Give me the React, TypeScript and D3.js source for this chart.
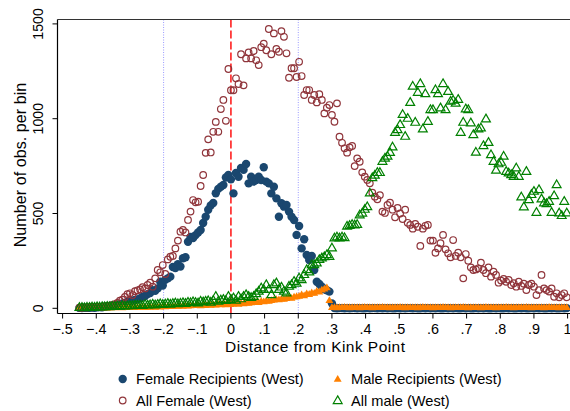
import * as d3 from "d3";

// bins of the running variable (distance from kink), 0.0075 wide starting at -0.45
const binStart = -0.45;
const binWidth = 0.0075;

const femaleRecipients = [
  2, 1, 3, 2, 3, 4, 3, 5, 6, 5, 8, 10,
  12, 15, 14, 18, 22, 25,
  28, 35, 33, 40, 44, 47, 52, 61, 65, 75, 80, 96,
  92, 105, 140, 120, 150, 158, 167, 218, 212, 233,
  220, 264, 269, 351, 376, 370, 386, 400,
  413, 450, 483, 520, 543, 555, 607, 630, 641, 650, 690, 703,
  680, 606, 714, 694, 740, 730, 761, 659, 694, 668,
  677, 694, 677, 744, 668, 659, 606, 641, 580, 483,
  554, 536, 545, 510, 483, 466, 387, 434, 316, 364,
  281, 255, 276, 202, 140, 128, 114, 100, 95, 88,
  26,
  1, 0, 1, 1, 0, 1, 0, 1, 1, 0, 1, 0, 0, 1, 0, 1, 1, 0, 1, 0,
  1, 0, 1, 0, 0, 1, 0, 1, 0, 1, 1, 0, 1, 0, 0, 1, 0, 1, 0, 1,
  0, 1, 0, 0, 1, 0, 1, 0, 1, 0, 0, 1, 0, 1, 0, 0, 1, 0, 1, 0,
  1, 0, 0, 1, 0, 1, 0, 0, 1, 0, 1, 0, 0, 1, 0, 1, 0, 0, 1, 0,
  1, 0, 1, 0, 0, 1, 0, 1, 0, 0, 1, 0, 1,
];

const maleRecipients = [
  0, 1, 0, 1, 2, 1, 0, 2, 1, 2, 3, 1, 2, 3, 2, 3, 4, 2, 3, 4, 5, 3, 4, 5, 4, 6, 5, 4, 6, 7, 5,
  8, 6, 9, 7, 10, 8, 9, 11, 10, 12, 9, 13, 11, 12, 14, 13, 15, 12, 16, 14, 17, 15, 18, 16, 19, 17, 20, 18, 21,
  19, 22, 24, 20, 25, 23, 27, 26, 28, 30, 32, 29, 35, 33, 38, 36, 40, 42, 45, 44, 48, 46, 50, 55, 52, 58, 60,
  62, 70, 65, 75, 72, 80, 78, 88, 85, 95, 100, 107, 40,
  3, 3, 2, 3, 3, 4, 3, 2, 3, 3, 3, 2, 3, 4, 3, 3, 2, 3, 3, 3,
  4, 3, 3, 2, 3, 3, 3, 4, 3, 2, 3, 3, 3, 3, 2, 3, 4, 3, 3, 3,
  2, 3, 3, 3, 4, 3, 3, 2, 3, 3, 3, 3, 4, 3, 2, 3, 3, 3, 3, 2,
  3, 4, 3, 3, 3, 2, 3, 3, 3, 4, 3, 3, 2, 3, 3, 3, 3, 4, 3, 2,
  3, 3, 3, 3, 2, 3, 4, 3, 3, 3, 2, 3, 3, 3,
];

const allFemale = [
  4, 3, 5, 4, 6, 5, 7, 8, 6, 9, 10, 12, 14,
  17, 22, 28, 40, 45, 60, 75,
  79, 70, 90, 95, 100, 111, 105, 123, 135, 114,
  158, 202, 190, 228, 181, 258, 272, 276, 316, 357,
  404, 413, 400, 466, 510, 571, 559, 562,
  645, 703, 820, 891, 822, 931, 983, 931, 1051, 1099, 989, 1262,
  1150, 1150, 1213, 1183, 1340, 1176, 1318, 1350, 1318, 1357,
  1308, 1283, 1377, 1396, 1361, 1473, 1340, 1450, 1368, 1353,
  1462, 1432, 1345, 1216, 1266, 1266, 1220, 1300, 1225,
  1125, 1151, 1151, 1099, 1125, 1086, 1129, 1099, 1028, 1058, 1072, 1020, 984, 1081, 905,
  873, 844, 821, 849, 856, 750, 791, 773, 717, 694,
  677, 659, 610, 589, 575, 597, 510, 503, 545, 557, 520, 480, 529, 500, 471, 520, 451, 440, 420, 445,
  430, 329, 420, 435, 440,
  357, 357, 293, 316, 343, 387, 311, 290, 269, 360, 276, 293, 269, 158, 286, 251, 216, 202, 205, 211,
  241, 202, 185, 216, 167, 193, 176, 135, 146, 155, 140, 150, 123, 132, 114, 140, 118, 130, 96, 123,
  130, 114, 70, 96, 176, 105, 96, 88, 105, 61, 79, 58, 70, 79, 58,
];

const allMale = [
  2, 3, 1, 4, 3, 5, 4, 6, 5, 7, 6, 8, 7, 9, 8, 10, 9, 12, 10, 11,
  13, 12, 15, 14, 16, 13, 18, 15, 17, 20, 16, 19, 22, 18, 21, 24, 20, 23, 26, 22,
  25, 28, 24, 30, 27, 33, 29, 26, 35, 32, 35, 38, 30, 40, 61, 36, 42, 45, 39, 61,
  45, 53, 40, 61, 48, 61, 70, 61, 55, 61,
  75, 88, 105, 97, 123, 97, 70, 123, 132, 97,
  110, 88, 79, 114, 123, 140, 130, 158, 149, 176,
  202, 190, 228, 228, 237, 255, 264, 270, 281, 272,
  316, 369, 374, 369, 374, 370, 431, 435, 440, 438,
  440, 490, 500, 520, 534, 606, 687, 700, 714, 714,
  773, 790, 800, 820, 849, 926, 940, 967, 1020, 905,
  1000, 1084, 1169, 979, 1137, 1183, 944, 1130, 984, 1046,
  1046, 1151, 1130, 1055, 1183, 1046, 1142, 1090, 1095, 1080,
  1100, 926, 979, 1050, 1046, 976, 914, 821, 944, 949,
  856, 997, 873, 808, 773, 726, 760, 768, 800, 720,
  712, 703, 694, 738, 694, 585, 533, 720, 571, 598,
  615, 504, 624, 575, 554, 550, 562, 504, 592, 650,
  501, 487, 562, 501,
];

const xTicks = [-0.5, -0.4, -0.3, -0.2, -0.1, 0, 0.1, 0.2, 0.3, 0.4, 0.5, 0.6, 0.7, 0.8, 0.9, 1];
const yTicks = [0, 500, 1000, 1500];
const dottedLines = [-0.2, 0.2];
const kinkLine = 0;

const legendItems = [
  {label: "Female Recipients (West)", kind: "dot"},
  {label: "Male Recipients (West)", kind: "tri"},
  {label: "All Female (West)", kind: "ring"},
  {label: "All male (West)", kind: "hollowTri"},
];

const NAVY = "#1a476f";
const MAROON = "#90353b";
const ORANGE = "#ff8000";
const GREEN = "#008000";
const FONT = "'Liberation Sans', Arial, Helvetica, sans-serif";

const fmtTick = (v: number) => {
  if (v === 0) return "0";
  if (v === 1) return "1";
  const s = d3.format(".1f")(v);
  return s.replace("0.", ".");
};

const bigTri = d3.symbol().type(d3.symbolTriangle).size(34)()!;
const smallTri = d3.symbol().type(d3.symbolTriangle).size(27)()!;

export default function App() {
  const width = 570;
  const height = 411;
  const left = 57.5;
  const top = 19.5;
  const bottom = 313.5;
  const right = 570;

  const x = d3.scaleLinear().domain([-0.5, 1]).range([62.6, 567.6]);
  const y = d3.scaleLinear().domain([0, 1500]).range([308.3, 23.9]);
  const bin = (i: number) => binStart + i * binWidth;

  const marker = (kind: string, cx: number, cy: number, key?: any) => {
    if (kind === "dot") return <circle key={key} cx={cx} cy={cy} r={4.2} fill={NAVY} />;
    if (kind === "ring")
      return <circle key={key} cx={cx} cy={cy} r={3.3} fill="none" stroke={MAROON} strokeWidth={1.2} />;
    if (kind === "tri")
      return <path key={key} d={smallTri} transform={`translate(${cx},${cy})`} fill={ORANGE} />;
    return (
      <path key={key} d={bigTri} transform={`translate(${cx},${cy})`} fill="none" stroke={GREEN} strokeWidth={1.2} />
    );
  };

  return (
    <svg width={width} height={height} style={{position: "absolute", left: 0, top: 0, background: "#fff"}}
         fontFamily={FONT}>
      <rect width={width} height={height} fill="#fff" />

      {/* reference lines under the markers */}
      {dottedLines.map((d) => (
        <line key={d} x1={x(d)} x2={x(d)} y1={top} y2={bottom} stroke="#9a9aff" strokeWidth={1}
              strokeDasharray="1,1.5" />
      ))}
      <line x1={x(kinkLine)} x2={x(kinkLine)} y1={top} y2={bottom} stroke="#ff0000" strokeWidth={1.4}
            strokeDasharray="8,3" />

      {/* series, in Stata's drawing order */}
      <g>{femaleRecipients.map((v, i) => marker("dot", x(bin(i)), y(v), i))}</g>
      <g>{maleRecipients.map((v, i) => marker("tri", x(bin(i)), y(v), i))}</g>
      <g>{allFemale.map((v, i) => marker("ring", x(bin(i)), y(v), i))}</g>
      <g>{allMale.map((v, i) => marker("hollowTri", x(bin(i)), y(v), i))}</g>

      {/* frame */}
      <line x1={left} x2={right} y1={top} y2={top} stroke="#333" strokeWidth={1.2} />
      <line x1={left} x2={left} y1={top} y2={bottom} stroke="#000" strokeWidth={1.2} />
      <line x1={left} x2={right} y1={bottom} y2={bottom} stroke="#000" strokeWidth={1.2} />

      {/* y axis */}
      {yTicks.map((t) => (
        <g key={t}>
          <line x1={left - 5} x2={left} y1={y(t)} y2={y(t)} stroke="#000" />
          <text transform={`translate(43.3,${y(t)}) rotate(-90)`} textAnchor="middle" fontSize={14.2}>
            {t}
          </text>
        </g>
      ))}
      <text transform={`translate(26,165) rotate(-90)`} textAnchor="middle" fontSize={16.2}>
        Number of obs. per bin
      </text>

      {/* x axis */}
      {xTicks.map((t) => (
        <g key={t}>
          <line x1={x(t)} x2={x(t)} y1={bottom} y2={bottom + 5} stroke="#000" />
          <text x={x(t)} y={333.5} textAnchor="middle" fontSize={14.4}>
            {fmtTick(t)}
          </text>
        </g>
      ))}
      <text x={315} y={352.3} textAnchor="middle" fontSize={15.5} textLength={180} lengthAdjust="spacing">
        Distance from Kink Point
      </text>

      {/* legend */}
      {legendItems.map((it, i) => {
        const col = i % 2;
        const row = Math.floor(i / 2);
        const mx = col === 0 ? 122.7 : 337.7;
        const my = row === 0 ? 379 : 400.5;
        return (
          <g key={it.label}>
            {marker(it.kind, mx, my + (it.kind === "tri" || it.kind === "hollowTri" ? 0.5 : 0))}
            <text x={mx + 13.3} y={my + 5.2} fontSize={14.6}>
              {it.label}
            </text>
          </g>
        );
      })}
    </svg>
  );
}
